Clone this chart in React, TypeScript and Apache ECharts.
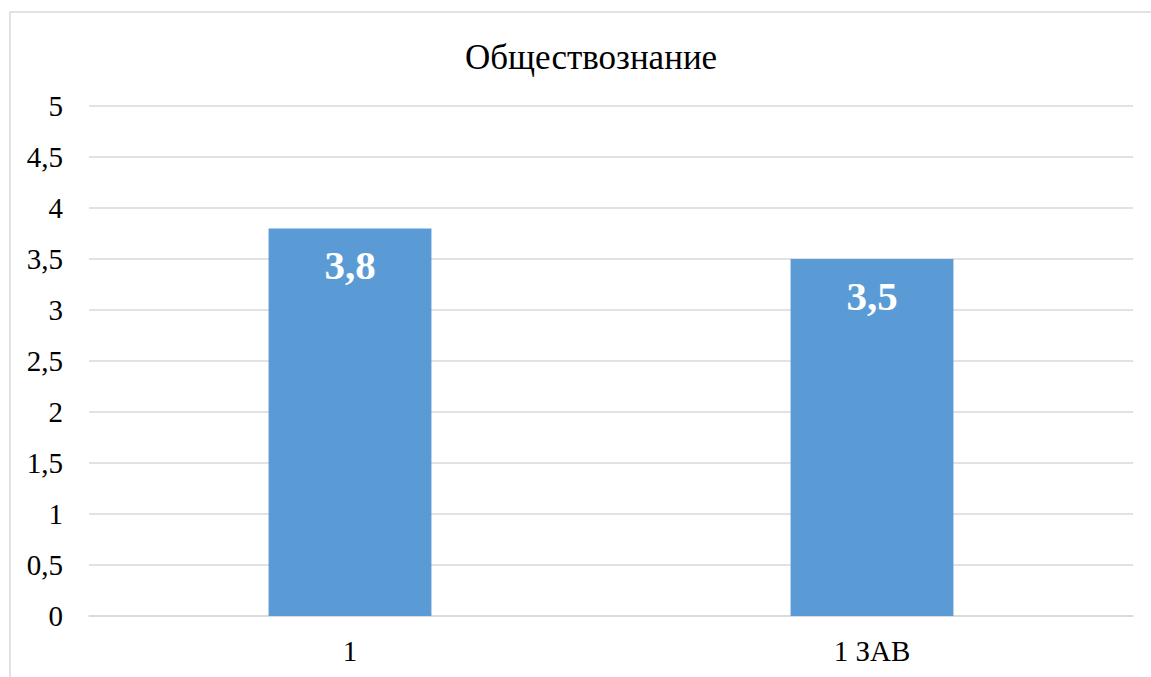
import React, { useEffect, useRef } from "react";
import * as echarts from "echarts";

const title = "Обществознание";
const categories = ["1", "1 ЗАВ"];
const values = [3.8, 3.5];
const yTicks = { min: 0, max: 5, interval: 0.5 };

const FONT = "'Liberation Serif', 'Times New Roman', serif";

export default function App() {
  const ref = useRef<HTMLDivElement>(null);
  useEffect(() => {
    const chart = echarts.init(ref.current!, null, { renderer: "svg" });
    const fmt = (v: number) => String(v).replace(".", ",");
    chart.setOption({
      animation: false,
      backgroundColor: "#ffffff",
      title: {
        text: title,
        left: 460,
        top: 35,
        textStyle: { fontFamily: FONT, fontSize: 35, fontWeight: "normal", color: "#000" },
      },
      graphic: [
        {
          type: "rect",
          shape: { x: 10, y: 12, width: 1170, height: 700 },
          style: { fill: "none", stroke: "#d9d9d9", lineWidth: 1.5 },
          silent: true,
        },
      ],
      grid: { left: 89, right: 18, top: 106, bottom: 61 },
      xAxis: {
        type: "category",
        data: categories,
        axisLine: { show: true, lineStyle: { color: "#d9d9d9", width: 1.5 } },
        axisTick: { show: false },
        axisLabel: { fontFamily: FONT, fontSize: 29, color: "#000", margin: 20 },
      },
      yAxis: {
        type: "value",
        min: yTicks.min,
        max: yTicks.max,
        interval: yTicks.interval,
        axisLine: { show: false },
        axisTick: { show: false },
        splitLine: { lineStyle: { color: "#d9d9d9", width: 1.5 } },
        axisLabel: {
          fontFamily: FONT,
          fontSize: 29,
          color: "#000",
          margin: 26,
          formatter: (v: number) => fmt(v),
        },
      },
      series: [
        {
          type: "bar",
          data: values,
          barWidth: "31.2%",
          itemStyle: { color: "#5B9BD5" },
          label: {
            show: true,
            position: "insideTop",
            distance: 16,
            fontFamily: FONT,
            fontSize: 41,
            fontWeight: "bold",
            color: "#fff",
            formatter: (p: any) => fmt(p.value),
          },
        },
      ],
    });
    return () => chart.dispose();
  }, []);
  return <div ref={ref} style={{ position: "fixed", left: 0, top: 0, width: 1151, height: 677 }} />;
}
